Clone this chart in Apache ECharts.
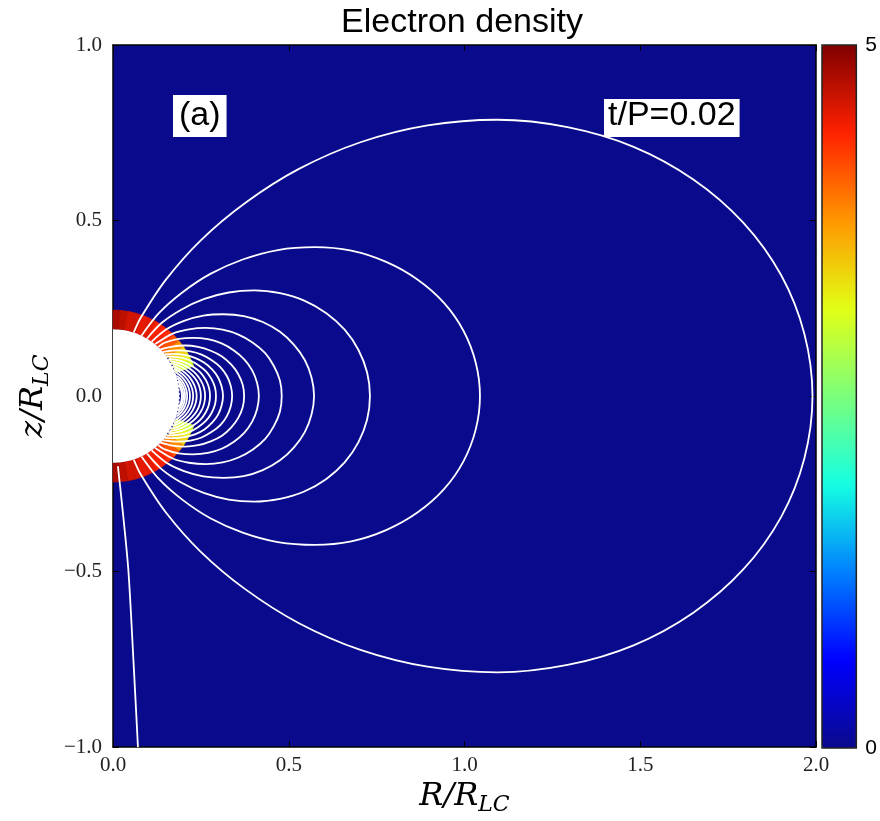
<!DOCTYPE html>
<html>
<head>
<meta charset="utf-8">
<script src="https://cdn.jsdelivr.net/npm/echarts@6/dist/echarts.min.js"></script>
<style>
  html, body { margin: 0; padding: 0; background: #ffffff; }
  #chart { width: 880px; height: 821px; }
</style>
</head>
<body>
<div id="chart"></div>
<script>
// Axis ranges and ticks (units of the light-cylinder radius)
const xRange = [0, 2];
const yRange = [-1, 1];
const tickStep = 0.5;

// Density colour scale (jet), 0 .. 5
const densityRange = [0, 5];
const jetColors = ['#0a0a8c', '#0000ff', '#0080ff', '#15ffe2', '#7bff7b', '#e2ff15', '#ff9700', '#ff2100', '#800000'];

// Masked star and the dense plasma shell around it
const starRadius = 0.19;
const shellOuterRadius = 0.245;

// Shell density in 5-degree bins of polar angle, measured from the +z axis
const shellAngleStart = [0, 5, 10, 15, 20, 25, 30, 35, 40, 45, 50, 55, 60, 65, 70, 75, 80, 85,
                         90, 95, 100, 105, 110, 115, 120, 125, 130, 135, 140, 145, 150, 155, 160, 165, 170, 175];
const shellDensity = [4.8, 4.7, 4.6, 4.6, 4.5, 4.5, 4.4, 4.4, 4.3, 4.1, 3.8, 3.4, 3.2, 3.0, 0, 0, 0, 0,
                      0, 0, 0, 0, 3.0, 3.2, 3.4, 3.8, 4.1, 4.3, 4.4, 4.4, 4.5, 4.5, 4.6, 4.6, 4.7, 4.8];

// Closed magnetic field lines: northern half, (R, z) from the footpoint to the equator
const fieldLines = [
  [[0.059,0.181],[0.080,0.225],[0.150,0.331],[0.249,0.443],[0.376,0.550],[0.529,0.647],[0.704,0.723],[0.895,0.771],[1.094,0.787],[1.293,0.766],[1.481,0.710],[1.651,0.617],[1.793,0.494],[1.901,0.344],[1.967,0.177],[1.99,0]],
  [[0.081,0.172],[0.1305,0.236],[0.197,0.295],[0.277,0.348],[0.369,0.389],[0.469,0.416],[0.574,0.424],[0.678,0.414],[0.777,0.382],[0.866,0.332],[0.941,0.266],[0.997,0.186],[1.032,0.095],[1.044,0]],
  [[0.097,0.164],[0.138,0.208],[0.194,0.246],[0.258,0.276],[0.329,0.295],[0.402,0.301],[0.475,0.293],[0.544,0.272],[0.607,0.236],[0.659,0.189],[0.698,0.132],[0.723,0.067],[0.731,0]],
  [[0.110,0.155],[0.152,0.190],[0.202,0.214],[0.257,0.229],[0.314,0.233],[0.372,0.228],[0.426,0.211],[0.475,0.183],[0.515,0.146],[0.546,0.102],[0.565,0.052],[0.572,0]],
  [[0.120,0.148],[0.170,0.178],[0.216,0.190],[0.264,0.194],[0.312,0.189],[0.357,0.175],[0.398,0.152],[0.433,0.122],[0.458,0.085],[0.475,0.044],[0.480,0]],
  [[0.129,0.140],[0.147,0.152],[0.187,0.163],[0.228,0.166],[0.270,0.162],[0.309,0.150],[0.344,0.130],[0.374,0.104],[0.396,0.073],[0.410,0.037],[0.415,0]],
  [[0.135,0.133],[0.168,0.141],[0.205,0.144],[0.242,0.140],[0.278,0.129],[0.310,0.113],[0.336,0.090],[0.356,0.063],[0.369,0.032],[0.373,0]],
  [[0.142,0.126],[0.186,0.130],[0.220,0.127],[0.252,0.118],[0.281,0.102],[0.306,0.082],[0.324,0.057],[0.335,0.029],[0.339,0]],
  [[0.148,0.119],[0.172,0.120],[0.203,0.117],[0.233,0.109],[0.260,0.095],[0.282,0.076],[0.299,0.053],[0.309,0.027],[0.313,0]],
  [[0.153,0.113],[0.190,0.110],[0.218,0.102],[0.243,0.088],[0.264,0.071],[0.280,0.049],[0.290,0.025],[0.293,0]],
  [[0.158,0.106],[0.179,0.1035],[0.205,0.096],[0.229,0.083],[0.249,0.067],[0.264,0.046],[0.273,0.024],[0.276,0]],
  [[0.162,0.100],[0.195,0.091],[0.217,0.079],[0.236,0.063],[0.250,0.044],[0.259,0.023],[0.262,0]],
  [[0.166,0.093],[0.186,0.087],[0.207,0.0755],[0.225,0.060],[0.239,0.042],[0.247,0.022],[0.250,0]],
  [[0.170,0.085],[0.177,0.083],[0.1975,0.072],[0.2145,0.0575],[0.227,0.040],[0.235,0.0206],[0.238,0]],
  [[0.173,0.078],[0.189,0.069],[0.2055,0.055],[0.218,0.038],[0.2254,0.0197],[0.228,0]],
  [[0.177,0.069],[0.197,0.053],[0.209,0.037],[0.2165,0.019],[0.219,0]],
  [[0.180,0.058],[0.190,0.051],[0.2015,0.0355],[0.2086,0.018],[0.211,0]],
  [[0.183,0.051],[0.1958,0.0345],[0.2027,0.0177],[0.205,0]],
  [[0.185,0.042],[0.194,0.027],[0.1985,0.014],[0.200,0]],
  [[0.187,0.033],[0.1938,0.017],[0.196,0]]
];

// Open field line leaving the southern polar cap
const openFieldLine = [[0.014,-0.20],[0.030,-0.35],[0.044,-0.50],[0.058,-0.75],[0.071,-1.00]];

// Angular extent of the equatorial rim where the bare surface shows
const rimAngles = [55, 125];

// Panel annotations
const panelTag = '(a)';
const timeTag = 't/P=0.02';
const titleText = 'Electron density';

const serif = '"Liberation Serif", "DejaVu Serif", serif';
const mathSerif = '"DejaVu Serif", serif';
const sans = '"Liberation Sans", Arial, sans-serif';

// The field is mirror-symmetric about the equator: close each loop through the southern half
function closeLoop(north) {
  const south = north.slice(0, -1).reverse().map(p => [p[0], -p[1]]);
  return north.concat(south);
}

const tickFormat = v => (v < 0 ? '\u2212' : '') + Math.abs(v).toFixed(1);

const frameLine = { show: true, onZero: false, lineStyle: { color: '#000', width: 1.5 } };
const innerTick = { show: true, inside: true, length: 6, lineStyle: { color: '#000', width: 1 } };

const axisNameRich = {
  it: { fontFamily: mathSerif, fontStyle: 'italic', fontSize: 32, lineHeight: 32, verticalAlign: 'top', color: '#000' },
  sub: { fontFamily: mathSerif, fontStyle: 'italic', fontSize: 22, lineHeight: 22, padding: [13, 0, 0, 0], verticalAlign: 'top', color: '#000' }
};

const lineSeries = fieldLines.map((north, i) => ({
  type: 'line',
  name: 'field line ' + (i + 1),
  data: closeLoop(north),
  symbol: 'none',
  smooth: 0.3,
  clip: true,
  silent: true,
  z: 5,
  lineStyle: { color: '#ffffff', width: 1.8 }
}));

function arcPoints(api, r, a0deg, a1deg, steps) {
  const pts = [];
  for (let k = 0; k <= steps; k++) {
    const a = (a0deg + (a1deg - a0deg) * k / steps) * Math.PI / 180;
    pts.push(api.coord([r * Math.sin(a), r * Math.cos(a)]));
  }
  return pts;
}

const option = {
  animation: false,
  backgroundColor: '#ffffff',
  title: {
    text: titleText,
    left: 462,
    top: 6,
    textAlign: 'center',
    padding: 0,
    textStyle: { fontFamily: sans, fontSize: 34, fontWeight: 'normal', color: '#000' }
  },
  grid: [
    { left: 113, top: 45, width: 703, height: 703, show: true, backgroundColor: jetColors[0], borderWidth: 0 },
    { left: 822, top: 45, width: 35, height: 703, show: true, backgroundColor: 'transparent', borderColor: '#222', borderWidth: 1.5, z: 10 }
  ],
  xAxis: [
    {
      gridIndex: 0, type: 'value', position: 'bottom', min: xRange[0], max: xRange[1], interval: tickStep,
      axisLine: frameLine, axisTick: innerTick, splitLine: { show: false },
      axisLabel: { formatter: tickFormat, fontFamily: serif, fontSize: 21, color: '#222', margin: 8 },
      name: '{it|R/R}{sub|LC}', nameLocation: 'middle', nameGap: 33,
      nameTextStyle: { rich: axisNameRich }
    },
    {
      gridIndex: 0, type: 'value', position: 'top', min: xRange[0], max: xRange[1], interval: tickStep,
      axisLine: frameLine, axisTick: innerTick, splitLine: { show: false }, axisLabel: { show: false }
    },
    { gridIndex: 1, type: 'value', min: 0, max: 1, show: false }
  ],
  yAxis: [
    {
      gridIndex: 0, type: 'value', position: 'left', min: yRange[0], max: yRange[1], interval: tickStep,
      axisLine: frameLine, axisTick: innerTick, splitLine: { show: false },
      axisLabel: { formatter: tickFormat, fontFamily: serif, fontSize: 21, color: '#222', margin: 11 },
      name: '{it|z/R}{sub|LC}', nameLocation: 'middle', nameGap: 60, nameRotate: 90,
      nameTextStyle: { rich: axisNameRich }
    },
    {
      gridIndex: 0, type: 'value', position: 'right', min: yRange[0], max: yRange[1], interval: tickStep,
      axisLine: frameLine, axisTick: innerTick, splitLine: { show: false }, axisLabel: { show: false }
    },
    {
      gridIndex: 1, type: 'value', position: 'right', min: densityRange[0], max: densityRange[1], interval: densityRange[1] - densityRange[0],
      axisLine: { show: false }, axisTick: { show: false }, splitLine: { show: false },
      axisLabel: { fontFamily: sans, fontSize: 21, color: '#000', margin: 9 }
    }
  ],
  visualMap: {
    type: 'continuous',
    min: densityRange[0],
    max: densityRange[1],
    seriesIndex: 0,
    dimension: 2,
    orient: 'vertical',
    left: 822,
    top: 45,
    itemWidth: 35,
    itemHeight: 703,
    padding: 0,
    calculable: false,
    hoverLink: false,
    text: null,
    showLabel: false,
    inRange: { color: jetColors }
  },
  series: [
    {
      // Plasma shell, one annular sector per angular bin
      type: 'custom',
      name: 'shell',
      xAxisIndex: 0, yAxisIndex: 0,
      silent: true,
      z: 2,
      data: shellAngleStart.map((a, i) => [a, a + 5, shellDensity[i]]),
      encode: { x: [], y: [] },
      renderItem(params, api) {
        const a0 = api.value(0), a1 = api.value(1);
        const outer = arcPoints(api, shellOuterRadius, a0, a1, 6);
        const inner = arcPoints(api, starRadius, a0, a1, 6).reverse();
        const c = api.visual('color');
        return { type: 'polygon', shape: { points: outer.concat(inner) }, style: { fill: c, stroke: c, lineWidth: 0.6 } };
      }
    },
    {
      // Masked stellar interior with its dotted equatorial rim
      type: 'custom',
      name: 'star',
      xAxisIndex: 0, yAxisIndex: 0,
      silent: true,
      z: 3,
      data: [[starRadius]],
      encode: { x: [], y: [] },
      renderItem(params, api) {
        const r = api.value(0);
        return {
          type: 'group',
          children: [
            { type: 'polygon', shape: { points: arcPoints(api, r, 0, 180, 90) }, style: { fill: '#ffffff' } },
            { type: 'polyline', shape: { points: arcPoints(api, r, rimAngles[0], rimAngles[1], 40) },
              style: { fill: null, stroke: jetColors[0], lineWidth: 1.6, lineDash: [1.5, 2.5] } }
          ]
        };
      }
    },
    ...lineSeries,
    {
      type: 'line',
      name: 'open field line',
      data: openFieldLine,
      symbol: 'none',
      smooth: 0.3,
      clip: true,
      silent: true,
      z: 5,
      lineStyle: { color: '#ffffff', width: 1.8 }
    }
  ],
  graphic: [
    {
      type: 'text', left: 173, top: 95, z: 20,
      style: { text: panelTag, font: '34px ' + sans, fill: '#000', backgroundColor: '#ffffff', padding: [4, 6, 4, 6], lineHeight: 34 }
    },
    {
      type: 'text', left: 604, top: 99, z: 20,
      style: { text: timeTag, font: '34px ' + sans, fill: '#000', backgroundColor: '#ffffff', padding: [0, 4, 4, 4], lineHeight: 34 }
    }
  ]
};

const chart = echarts.init(document.getElementById('chart'), null, { renderer: 'canvas' });
chart.setOption(option);
</script>
</body>
</html>
